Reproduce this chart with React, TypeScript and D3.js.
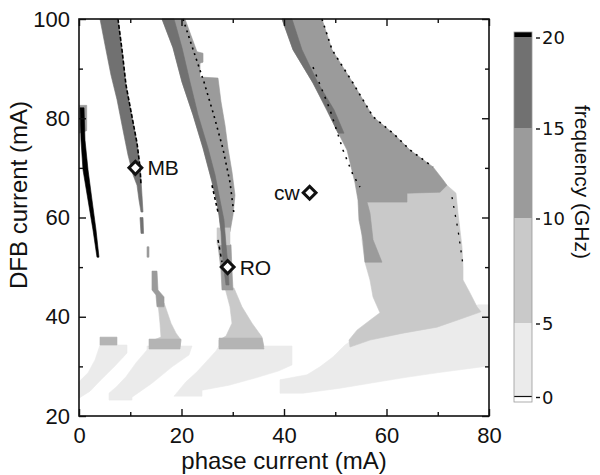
import { useEffect, useRef } from "react";
import * as d3 from "d3";

type Pt = [number, number]; // [phase current (mA), DFB current (mA)]

// outlines of the frequency regions
const blackStripe: Pt[] = [
  [0.2, 82.1], [0.39, 75.6], [0.78, 69.6], [1.76, 63.5], [2.73, 57.5], [3.51, 52.0],
  [3.9, 52.0], [3.32, 57.5], [2.54, 63.5], [1.76, 69.6], [1.17, 75.6], [0.98, 82.1],
];
const stripeTop: Pt[] = [[0.1, 82.6], [1.5, 82.6], [1.5, 77.5], [0.1, 77.0]];

const bandA: Pt[] = [
  [4.1, 100], [5.07, 94.8], [6.24, 88.7], [7.41, 83.8], [8.59, 77.6], [9.56, 72.6],
  [10.54, 68.6], [11.32, 66.5], [11.71, 63.5], [12.1, 61.1], [12.49, 61.1], [12.29, 64.5],
  [12.1, 67.6], [11.9, 70.2], [11.32, 75.0], [10.34, 80.3], [9.17, 86.7], [8.39, 93.8], [7.61, 100],
];
const bandATail: Pt[] = [[11.9, 60.0], [12.49, 60.0], [12.6, 56.8], [12.1, 56.8]];

const bandBMid: Pt[] = [
  [16.2, 100], [18.34, 94.2], [20.1, 87.3], [22.24, 80.7], [24.2, 74.0], [25.95, 67.2],
  [26.93, 63.1], [27.32, 60.5], [27.71, 57.1], [29.46, 57.1], [30.05, 60.5], [30.44, 64.5],
  [29.85, 69.2], [29.07, 74.0], [28.49, 78.6], [27.71, 83.3], [27.12, 88.1], [23.61, 88.3],
  [23.61, 91.1], [24.2, 91.3], [24.2, 93.1], [23.02, 93.4], [20.68, 100],
];
const bandBDark: Pt[] = [
  [16.2, 100], [18.34, 94.2], [20.1, 87.3], [22.24, 80.7], [24.2, 74.0], [25.95, 67.2],
  [26.93, 63.1], [27.32, 60.5], [27.71, 57.1], [27.9, 53.5], [28.29, 49.4], [28.68, 46.4],
  [29.27, 46.4], [29.07, 50.4], [28.68, 54.5], [28.29, 59.5], [27.32, 64.5], [26.54, 68.6],
  [25.17, 74.0], [23.22, 80.7], [21.66, 87.3], [20.1, 94.2], [18.54, 100],
];
const bandBBlob: Pt[] = [[26.93, 57.9], [29.46, 57.9], [29.46, 54.5], [26.93, 54.5]];
const bandBLowMid: Pt[] = [
  [27.12, 54.5], [27.71, 49.4], [27.9, 45.4], [30.05, 45.4], [29.85, 49.4], [29.66, 54.5],
];
const bandBLight: Pt[] = [
  [28.49, 45.8], [29.46, 42.0], [29.85, 38.7], [28.68, 36.1], [27.32, 35.3], [27.32, 33.9],
  [36.1, 33.9], [35.71, 35.9], [33.76, 38.7], [31.8, 42.0], [30.24, 45.8],
];
const bandBStrip: Pt[] = [[27.32, 35.7], [35.71, 35.7], [36.1, 33.5], [27.32, 33.5]];

const bandA2Dot: Pt[] = [[13.27, 54.1], [13.66, 54.1], [13.66, 52.0], [13.27, 52.0]];
const bandA2Streak: Pt[] = [
  [14.24, 49.2], [15.22, 49.2], [15.41, 45.4], [16.59, 44.0], [16.59, 42.0],
  [15.22, 42.0], [15.02, 44.4], [14.24, 45.4],
];
const bandA2Light: Pt[] = [
  [15.41, 42.8], [15.8, 38.7], [16.0, 35.9], [14.05, 35.1], [13.66, 33.9], [19.71, 33.9],
  [19.9, 35.3], [18.93, 36.7], [17.95, 38.7], [16.59, 42.8],
];
const bandA2Strip: Pt[] = [[13.66, 35.5], [19.9, 35.5], [19.71, 33.5], [13.66, 33.5]];

const bandCMid: Pt[] = [
  [39.61, 100], [41.76, 93.8], [45.66, 87.1], [48.98, 80.3], [52.29, 73.6], [53.85, 67.0],
  [54.44, 63.5], [54.63, 59.5], [55.41, 55.5], [55.8, 51.0], [59.12, 51.0], [57.37, 55.5],
  [56.78, 60.9], [56.2, 63.1], [64.0, 63.1], [64.0, 64.9], [70.44, 65.1], [71.8, 66.5],
  [71.02, 67.6], [69.07, 70.2], [64.59, 73.6], [61.27, 77.0], [57.37, 80.3], [53.46, 87.1],
  [49.37, 93.8], [47.41, 100],
];
const bandCDark: Pt[] = [
  [39.61, 100], [41.76, 93.8], [45.66, 87.1], [48.39, 81.7], [50.54, 77.0],
  [51.71, 77.0], [49.76, 81.7], [46.63, 87.1], [43.51, 93.8], [41.56, 100],
];
const bandCLight: Pt[] = [
  [55.22, 63.9], [71.8, 66.5], [73.56, 64.9], [73.95, 60.9], [74.34, 57.5], [74.73, 54.1],
  [74.93, 50.0], [74.93, 47.4], [76.29, 44.8], [77.66, 42.0], [78.44, 41.0], [73.76, 39.3],
  [69.85, 37.9], [63.22, 36.7], [56.78, 35.3], [52.88, 33.9], [52.68, 35.3], [54.24, 37.3],
  [56.78, 39.3], [58.73, 40.8], [57.37, 44.0], [56.78, 47.4], [55.8, 51.0], [55.22, 55.5],
];

const wedge1: Pt[] = [
  [4.1, 34.3], [9.37, 34.3], [9.37, 32.7], [7.02, 30.1], [4.1, 27.1], [2.15, 25.0],
  [0, 23.6], [0, 26.9], [1.76, 28.7], [3.12, 31.3],
];
const wedge1Top: Pt[] = [[4.1, 35.9], [7.41, 35.9], [7.41, 34.3], [4.1, 34.3]];
const wedge2: Pt[] = [
  [13.27, 34.1], [22.05, 34.1], [21.46, 32.3], [18.15, 29.9], [14.24, 26.6], [10.34, 23.8],
  [10.34, 23.2], [5.85, 23.2], [5.85, 24.6], [7.22, 25.8], [9.17, 27.9], [11.12, 30.7], [13.27, 33.3],
];
const wedge3: Pt[] = [
  [27.32, 34.1], [41.56, 34.1], [41.56, 30.3], [39.02, 29.1], [34.54, 27.7], [29.27, 26.2],
  [24.0, 25.2], [24.0, 24.0], [18.54, 24.0], [20.88, 26.9], [23.02, 28.9], [24.78, 30.9], [26.73, 33.1],
];
const wedge4: Pt[] = [
  [77.85, 42.4], [80, 42.4], [80, 30.1], [69.85, 28.7], [63.22, 27.7], [56.78, 26.6],
  [50.93, 25.6], [43.71, 24.6], [39.22, 24.6], [39.22, 27.3], [44.49, 28.3], [47.02, 29.9],
  [49.56, 31.9], [51.9, 34.3], [54.83, 36.3], [62.63, 37.7], [70.44, 39.3],
];

// thin black (>20 GHz) traces along the band edges
const edgeA: Pt[] = [[7.61, 100], [8.39, 93.8], [9.17, 86.7], [10.34, 80.3], [11.32, 75.0], [11.9, 70.2], [12.1, 66.5]];
const edgeB: Pt[] = [[20.29, 100], [22.24, 93.9], [24.39, 87.3], [26.34, 80.5], [28.1, 73.8], [29.46, 67.1], [30.24, 60.7]];
const edgeBLeft: Pt[] = [[25.95, 66.5], [27.12, 61.1]];
const edgeBLow: Pt[] = [[27.12, 55.5], [27.9, 51.0]];
const edgeC: Pt[] = [[47.41, 100], [49.37, 93.8], [53.46, 87.1], [57.37, 80.3], [61.27, 77.0], [64.59, 73.6], [69.07, 70.2]];
const edgeCInner: Pt[] = [[45.66, 90.3], [48.98, 81.7], [51.51, 73.6], [53.46, 68.6], [54.83, 66.1]];
const edgeCLight: Pt[] = [[72.78, 64.1], [73.95, 57.5], [74.93, 50.4]];

const markerNames = ["MB", "RO", "cw"];
const markerPhase = [11, 29, 45];
const markerDfb = [70, 50, 65];

const xTicks = [0, 20, 40, 60, 80];
const xMinor = [10, 30, 50, 70];
const yTicks = [20, 40, 60, 80, 100];
const yMinor = [30, 50, 70, 90];
const cbTicks = [0, 5, 10, 15, 20];

const freqColor = d3
  .scaleThreshold<number, string>()
  .domain([5, 8.5, 10, 15, 20])
  .range(["#ebebeb", "#c9c9c9", "#b4b4b4", "#9b9b9b", "#717171", "#000000"]);

const App = () => {
  const ref = useRef<SVGSVGElement>(null);

  useEffect(() => {
    if (!ref.current) return;
    const svg = d3.select(ref.current);
    svg.selectAll("*").remove();

    const left = 79, right = 489, top = 19, bottom = 416;
    const x = d3.scaleLinear().domain([0, 80]).range([left, right]);
    const y = d3.scaleLinear().domain([20, 100]).range([bottom, top]);

    const regions: { f: number; pts: Pt[] }[] = [
      { f: 2.5, pts: wedge1 },
      { f: 2.5, pts: wedge2 },
      { f: 2.5, pts: wedge3 },
      { f: 2.5, pts: wedge4 },
      { f: 7.5, pts: bandCLight },
      { f: 7.5, pts: bandA2Light },
      { f: 7.5, pts: bandBLight },
      { f: 9, pts: wedge1Top },
      { f: 9, pts: bandA2Strip },
      { f: 9, pts: bandBStrip },
      { f: 12.5, pts: bandBMid },
      { f: 12.5, pts: bandCMid },
      { f: 12.5, pts: bandBLowMid },
      { f: 12.5, pts: bandA2Streak },
      { f: 12.5, pts: bandA2Dot },
      { f: 12.5, pts: stripeTop },
      { f: 7.5, pts: bandBBlob },
      { f: 17.5, pts: bandA },
      { f: 17.5, pts: bandATail },
      { f: 17.5, pts: bandBDark },
      { f: 17.5, pts: bandCDark },
      { f: 22, pts: blackStripe },
    ];

    const poly = d3
      .line<Pt>()
      .x((d) => x(d[0]))
      .y((d) => y(d[1]))
      .curve(d3.curveLinearClosed);
    const open = d3
      .line<Pt>()
      .x((d) => x(d[0]))
      .y((d) => y(d[1]));

    const map = svg.append("g");
    map
      .selectAll("path.region")
      .data(regions)
      .join("path")
      .attr("class", "region")
      .attr("d", (d) => poly(d.pts))
      .attr("fill", (d) => freqColor(d.f))
      .attr("stroke", (d) => freqColor(d.f))
      .attr("stroke-width", 0.6);

    const edges: { pts: Pt[]; dash: string; w: number }[] = [
      { pts: edgeA, dash: "4 2", w: 1.6 },
      { pts: edgeB, dash: "2 4", w: 1.6 },
      { pts: edgeBLeft, dash: "3 3", w: 1.6 },
      { pts: edgeBLow, dash: "3 4", w: 1.5 },
      { pts: edgeC, dash: "2 5", w: 1.6 },
      { pts: edgeCInner, dash: "2 6", w: 1.5 },
      { pts: edgeCLight, dash: "2 7", w: 1.3 },
    ];
    map
      .selectAll("path.edge")
      .data(edges)
      .join("path")
      .attr("class", "edge")
      .attr("d", (d) => open(d.pts))
      .attr("fill", "none")
      .attr("stroke", "#000")
      .attr("stroke-width", (d) => d.w)
      .attr("stroke-dasharray", (d) => d.dash);

    const font = "Liberation Sans, Arial, sans-serif";

    // markers
    const markers = markerNames.map((name, i) => ({
      name,
      px: x(markerPhase[i]),
      py: y(markerDfb[i]),
    }));
    const diamond = d3.symbol().type(d3.symbolSquare).size(82);
    const mg = svg.append("g");
    mg.selectAll("path")
      .data(markers)
      .join("path")
      .attr("d", diamond())
      .attr("transform", (d) => `translate(${d.px},${d.py}) rotate(45)`)
      .attr("fill", "#fff")
      .attr("stroke", "#111")
      .attr("stroke-width", 3);
    mg.selectAll("text")
      .data(markers)
      .join("text")
      .attr("x", (d) => (d.name === "cw" ? d.px - 10 : d.px + 12))
      .attr("y", (d) => d.py)
      .attr("dy", "0.36em")
      .attr("text-anchor", (d) => (d.name === "cw" ? "end" : "start"))
      .attr("font-family", font)
      .attr("font-size", 21)
      .attr("fill", "#111")
      .text((d) => d.name);

    // frame and ticks
    const styleAxis = (g: d3.Selection<SVGGElement, unknown, null, undefined>) => {
      g.select(".domain").remove();
      g.selectAll(".tick line").attr("stroke", "#111").attr("stroke-width", 1.4);
      g.selectAll(".tick text").attr("font-family", font).attr("font-size", 22).attr("fill", "#111");
    };
    const axes = svg.append("g");
    axes.append("g").attr("transform", `translate(0,${bottom})`)
      .call(d3.axisBottom(x).tickValues(xTicks).tickSizeInner(-7).tickSizeOuter(0).tickPadding(11).tickFormat(d3.format("d")))
      .call(styleAxis);
    axes.append("g").attr("transform", `translate(0,${bottom})`)
      .call(d3.axisBottom(x).tickValues(xMinor).tickSize(-4).tickFormat(() => ""))
      .call(styleAxis);
    axes.append("g").attr("transform", `translate(0,${top})`)
      .call(d3.axisTop(x).tickValues(xTicks).tickSize(-7).tickFormat(() => ""))
      .call(styleAxis);
    axes.append("g").attr("transform", `translate(0,${top})`)
      .call(d3.axisTop(x).tickValues(xMinor).tickSize(-4).tickFormat(() => ""))
      .call(styleAxis);
    axes.append("g").attr("transform", `translate(${left},0)`)
      .call(d3.axisLeft(y).tickValues(yTicks).tickSizeInner(-7).tickSizeOuter(0).tickPadding(9).tickFormat(d3.format("d")))
      .call(styleAxis);
    axes.append("g").attr("transform", `translate(${left},0)`)
      .call(d3.axisLeft(y).tickValues(yMinor).tickSize(-4).tickFormat(() => ""))
      .call(styleAxis);
    axes.append("g").attr("transform", `translate(${right},0)`)
      .call(d3.axisRight(y).tickValues(yTicks).tickSize(-7).tickFormat(() => ""))
      .call(styleAxis);
    axes.append("g").attr("transform", `translate(${right},0)`)
      .call(d3.axisRight(y).tickValues(yMinor).tickSize(-4).tickFormat(() => ""))
      .call(styleAxis);
    axes.append("rect")
      .attr("x", left).attr("y", top)
      .attr("width", right - left).attr("height", bottom - top)
      .attr("fill", "none").attr("stroke", "#111").attr("stroke-width", 1.6);

    axes.append("text")
      .attr("x", (left + right) / 2).attr("y", 469)
      .attr("text-anchor", "middle")
      .attr("font-family", font).attr("font-size", 24).attr("fill", "#111")
      .text("phase current (mA)");
    axes.append("text")
      .attr("transform", `translate(27,195) rotate(-90)`)
      .attr("text-anchor", "middle")
      .attr("font-family", font).attr("font-size", 24).attr("fill", "#111")
      .text("DFB current (mA)");

    // colour bar
    const cbX = 514, cbW = 18;
    const c = d3
      .scaleLinear()
      .domain([-0.35, 0, 5, 10, 15, 20, 20.35])
      .range([402, 396.5, 323, 218, 128, 37, 32]);
    const cb = svg.append("g");
    const bands = [
      { lo: -0.35, hi: 0, color: "#ffffff" },
      ...d3.pairs(cbTicks).map(([lo, hi]) => ({ lo, hi, color: freqColor((lo + hi) / 2) })),
      { lo: 20, hi: 20.35, color: "#000000" },
    ];
    cb.selectAll("rect")
      .data(bands)
      .join("rect")
      .attr("x", cbX)
      .attr("width", cbW)
      .attr("y", (d) => c(d.hi))
      .attr("height", (d) => c(d.lo) - c(d.hi))
      .attr("fill", (d) => d.color);
    cb.append("line")
      .attr("x1", cbX).attr("x2", cbX + cbW)
      .attr("y1", c(0)).attr("y2", c(0))
      .attr("stroke", "#111").attr("stroke-width", 1.2);
    cb.append("rect")
      .attr("x", cbX).attr("y", c(20.35))
      .attr("width", cbW).attr("height", c(-0.35) - c(20.35))
      .attr("fill", "none").attr("stroke", "#999").attr("stroke-width", 0.8);
    const cbt = cb.selectAll("g.t").data(cbTicks).join("g").attr("class", "t")
      .attr("transform", (d) => `translate(0,${c(d) + 1})`);
    cbt.append("line")
      .attr("x1", cbX + cbW + 4).attr("x2", cbX + cbW + 8)
      .attr("stroke", "#111").attr("stroke-width", 1.4);
    cbt.append("text")
      .attr("x", cbX + cbW + 10)
      .attr("dy", "0.36em")
      .attr("font-family", "DejaVu Sans, sans-serif").attr("font-size", 18).attr("fill", "#111")
      .text((d) => d);
    cb.append("text")
      .attr("transform", `translate(582,182) rotate(90)`)
      .attr("text-anchor", "middle")
      .attr("dy", "0.35em")
      .attr("font-family", font).attr("font-size", 21).attr("fill", "#111")
      .text("frequency (GHz)");
  }, []);

  return (
    <svg
      ref={ref}
      width={600}
      height={475}
      style={{ position: "absolute", left: 0, top: 0, background: "#fff" }}
    />
  );
};

export default App;
